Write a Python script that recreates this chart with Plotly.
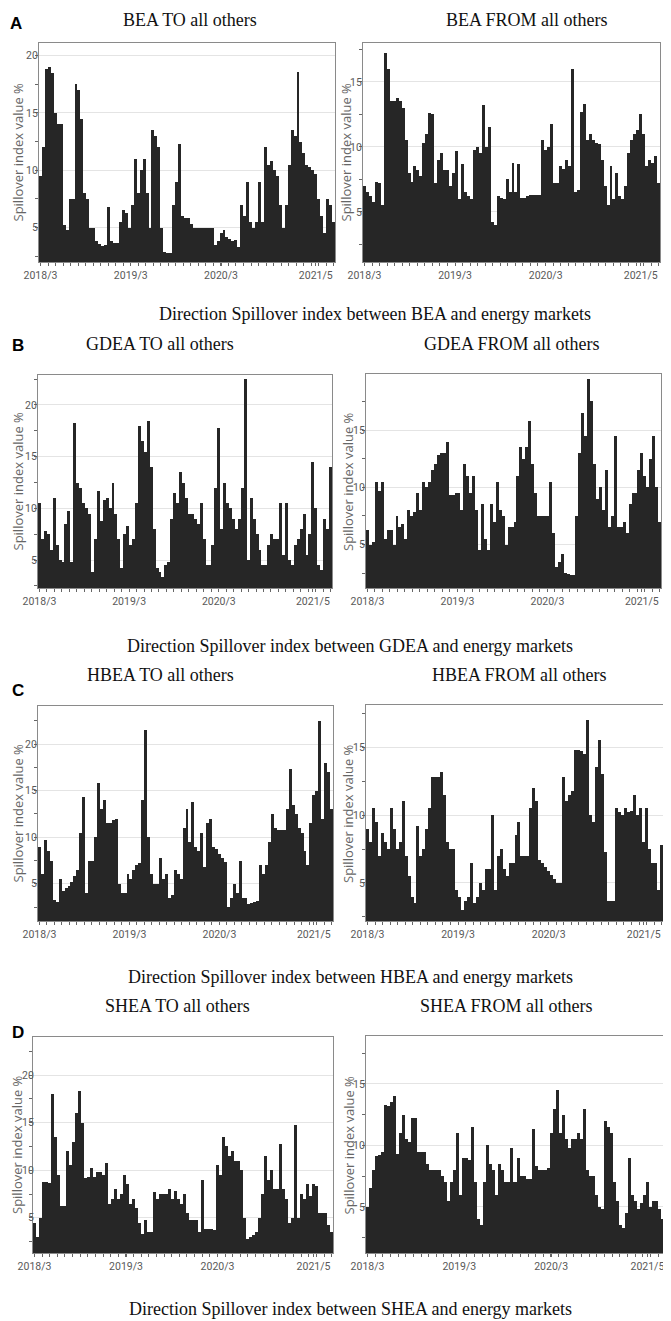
import plotly.graph_objects as go

# the page body keeps its default 8px margin, so the figure is drawn 8px smaller
PAGE_W, PAGE_H = 671, 1321
BODY = 8
W, H = PAGE_W - BODY, PAGE_H - BODY

TICK_LABELS = ["2018/3", "2019/3", "2020/3", "2021/5"]
TICK_POS = [0, 30.5, 61, 93]

# BEA
BEA_TO = [
    9.5, 12, 18.8, 19, 18.5, 15, 14, 14, 5.2, 4.8,
    7.5, 7.5, 17.5, 17, 14.5, 8, 7.5, 5, 5, 3.8,
    3.6, 3.4, 3.5, 6.8, 3.8, 3.7, 3.7, 5.5, 6.5, 6.3,
    5, 7, 11, 8, 10, 11, 8, 5, 13.5, 13,
    12, 5, 2.9, 2.8, 2.8, 7, 9, 12.3, 6, 5.8,
    5.8, 5.3, 5, 5, 5, 5, 5, 5, 5, 3.5,
    3.8, 4.5, 4.8, 4.2, 4, 3.8, 3.9, 3.3, 7, 6,
    9, 5.5, 5, 5.5, 9, 5.5, 12, 10.5, 10.8, 10,
    9.5, 7, 5, 7, 10.5, 13.5, 13, 18.6, 12.5, 11.5,
    10.5, 10.3, 10, 9.7, 7.5, 6, 4.5, 7.5, 7, 5.5,
]
BEA_FROM = [
    7, 6.5, 6.2, 5.8, 7.3, 7.2, 5.5, 17.2, 16, 13.5,
    13.5, 13.8, 13.5, 13, 10.5, 8, 7.3, 8.5, 8.2, 7.8,
    10.3, 11, 12.6, 12.5, 7.2, 9, 9.5, 8.2, 8.2, 7,
    8, 9.7, 6, 8.7, 6.5, 6.2, 6, 9.8, 10, 9.5,
    13.2, 10, 11.5, 4.2, 4, 6.2, 6.1, 6, 7.5, 6.5,
    8.8, 6.5, 8.7, 6.1, 6.1, 6.2, 6.3, 6.3, 6.3, 6.3,
    10.5, 9.8, 10, 11.8, 7.2, 7.2, 8.5, 8.3, 9, 8.5,
    16, 6.5, 6.7, 12.7, 13.3, 10.5, 11, 10.5, 10.3, 10.2,
    9, 7, 5.5, 8.5, 6, 8, 6.2, 6, 7, 9.5,
    10.5, 11, 11.3, 12.5, 11, 8.5, 9, 8.8, 9.3, 7.2,
]

# GDEA
GDEA_TO = [
    10.5, 7, 7.8, 7.5, 6, 11, 6.5, 5, 4.8, 8.5,
    9.7, 4.8, 18.3, 12.5, 12, 10.5, 10, 9.5, 3.8, 7,
    11.7, 8.8, 10.8, 11, 10, 12.5, 9.5, 7, 4.2, 7.5,
    8.3, 6.5, 7, 10.5, 18, 16.5, 15.5, 18.5, 14, 8,
    4.2, 3.8, 3.4, 4.5, 4.8, 9, 11.5, 10.5, 13.5, 12.5,
    11, 9.5, 9.5, 9, 8.5, 10.5, 7, 4.5, 4.5, 6.5,
    12, 17.8, 8, 12.5, 10.5, 10, 9, 8, 9, 12,
    22.5, 5, 11, 9, 7.5, 6, 4.5, 4.5, 6.5, 7.5,
    7, 7, 10.5, 5.5, 10.5, 5, 4.5, 6.5, 7, 8,
    9.5, 5.5, 7.5, 14.5, 10, 4.5, 4, 9, 8, 14,
]
GDEA_FROM = [
    6.3, 5, 5.2, 10.5, 9.7, 10.5, 5.5, 6.3, 6.3, 5,
    7.5, 6.5, 6.8, 5.5, 8, 7.5, 7.8, 9.5, 8, 10.5,
    10, 10.5, 11.5, 12, 12.8, 13, 13, 14, 9.3, 9.3,
    9.5, 9.5, 8, 12, 11, 9.5, 11, 8, 4.5, 8.5,
    5.5, 4.5, 8.5, 7, 10.5, 8, 7.5, 5, 6.5, 6.5,
    7, 11, 13.5, 12.5, 13.5, 15.8, 12, 9.5, 7.5, 7.5,
    7.5, 7.5, 10.5, 6, 3, 3.5, 4.2, 2.5, 2.4, 2.3,
    2.3, 7.5, 13, 16.5, 14.5, 19.5, 17.5, 12, 9, 10,
    8, 11.5, 6.5, 7.5, 14.5, 6.5, 6.5, 7, 6, 8.5,
    9.5, 9.5, 11.5, 13, 11, 10, 12.5, 14.5, 10, 7,
]

# HBEA
HBEA_TO = [
    9, 6, 9.7, 8.5, 7.5, 3.3, 3, 5.5, 4.2, 4.5,
    4.8, 5.2, 5.8, 6.5, 10.5, 14.3, 4, 7.5, 7.5, 10,
    15.8, 13, 14, 11.5, 11.5, 11.8, 12, 5, 4, 4,
    6, 5.5, 6.5, 7, 7.2, 14, 21.5, 10, 6, 5,
    5, 7.8, 5.5, 6, 3.5, 3.8, 6.5, 6, 5.5, 11,
    13, 9.5, 13.8, 9, 8.5, 10.5, 6.8, 11.5, 12, 9,
    8.7, 8.2, 7.8, 7.3, 2.5, 3.5, 5, 4, 7.5, 3.5,
    3.5, 2.8, 2.9, 3, 3.2, 7, 6, 7, 9.5, 12.5,
    11, 10.8, 10.8, 10.8, 13, 17.3, 13.5, 12.5, 11, 10.5,
    8.5, 7, 11.5, 14.5, 15, 22.5, 12, 18, 17, 13,
]
HBEA_FROM = [
    9, 8, 10.5, 9.5, 7, 8.7, 8, 7.5, 10.5, 9,
    7.5, 8, 11, 7, 5.5, 4, 3.5, 9.2, 7, 7.5,
    9, 10.5, 12.8, 12.8, 12.8, 13.2, 11.5, 8, 7.5, 7.5,
    4.5, 4, 3, 3.7, 4, 6.5, 3.5, 4, 5, 4.5,
    6, 6, 10, 4.5, 7, 7.5, 6, 5.5, 6.5, 6.5,
    8.5, 9.5, 7, 7, 7, 10.5, 12, 11, 6.7, 6.5,
    6.2, 5.9, 5.6, 5.3, 5, 5, 12.8, 11, 11.5, 11.8,
    14.8, 14.8, 14.7, 14.5, 17, 10, 9.5, 13.5, 15.5, 13,
    7.3, 3.7, 3.7, 3.7, 10.5, 10.2, 10, 10.5, 10.2, 10.3,
    11.5, 10, 10.5, 8, 10.5, 7.5, 6.5, 6.5, 4.5, 7.8,
]

# SHEA
SHEA_TO = [
    4.5, 3, 5, 8.8, 8.8, 8.7, 18, 13.5, 9.5, 6.2,
    6.2, 12, 10.5, 13, 16, 18.3, 15, 9.2, 9.3, 10.2,
    9.3, 9.8, 9.8, 9.5, 10.8, 6.5, 7, 8, 7, 7.5,
    9.5, 8.5, 6.5, 7, 6, 4.5, 3.3, 4.8, 3.5, 3.5,
    7.7, 7, 7.5, 7.5, 7.5, 8, 7, 7.8, 7, 6.5,
    7.5, 5.5, 4.8, 4.8, 4.8, 3.5, 9, 3.8, 3.8, 3.8,
    3.7, 10.5, 9.5, 13.5, 12.5, 11.5, 12, 11, 11, 10,
    5, 2.8, 3, 3.2, 3.5, 5, 7.5, 11.5, 9, 10,
    8, 8, 12.8, 8, 7, 4.5, 5, 14.8, 5, 7.5,
    7, 8.5, 7.3, 8.5, 8.3, 5.5, 5.5, 5.5, 4.2, 3.5,
]
SHEA_FROM = [
    5, 6.5, 8, 9.1, 9.2, 9.5, 13.3, 13.2, 13.5, 14,
    9.3, 11, 12.5, 10.5, 10.3, 12.2, 12.2, 9.5, 9.5, 9.5,
    8.5, 8, 8, 8, 8, 7.5, 7, 5.5, 7, 8,
    11, 6, 9, 9, 8.8, 11.5, 7, 4, 3.5, 7,
    10, 8.5, 8, 6, 8.5, 8, 7, 7, 9.8, 7,
    9, 7.5, 7.5, 7.3, 7.3, 11.3, 8.3, 8, 8, 8,
    8.2, 11, 13, 14.5, 11, 12.5, 10.5, 9.8, 10.5, 10.5,
    11, 10.5, 13, 8, 7.5, 7.5, 6, 5, 4.8, 12,
    11.5, 11, 7, 5.5, 3.5, 3.3, 4.5, 9, 6, 5.5,
    4.8, 5.3, 6, 7, 5, 5.5, 5.5, 4.8, 4, 4,
]

MARKETS = ["BEA", "GDEA", "HBEA", "SHEA"]
LETTERS = ["A", "B", "C", "D"]
SERIES = [(BEA_TO, BEA_FROM), (GDEA_TO, GDEA_FROM), (HBEA_TO, HBEA_FROM), (SHEA_TO, SHEA_FROM)]
YRANGES = [
    ((2.0, 21.1), (1.15, 18.0)),
    ((2.3, 22.9), (1.2, 19.9)),
    ((1.0, 24.1), (2.2, 18.1)),
    ((1.3, 24.0), (1.25, 18.9)),
]

# page-pixel boxes (x0, x1, ytop, ybottom) for the two plots of each panel
BOXES = [
    ((39, 335, 43, 262), (363, 660, 43, 262)),
    ((38, 332, 375, 588), (366, 661, 374, 588)),
    ((38, 333, 706, 921), (366, 663, 705, 921)),
    ((33, 333, 1037, 1253), (366, 667, 1036, 1253)),
]
TITLE_POS = [((190, 20), (527, 20)), ((160, 344), (512, 344)), ((160, 675), (519, 675)), ((178, 1006), (506, 1006))]
LETTER_POS = [(16, 23), (18, 345), (18, 690), (18, 1032)]
CAPTION_POS = [(375, 314), (350, 646), (350, 977), (350, 1309)]
YTITLE_X = [(17, 345), (17, 348), (17, 348), (17, 348)]
LABEL_SHIFT = [(-5, -5), (-5, -5), (-5, -5), (-7, -5)]

SERIF = "Liberation Serif, Times New Roman, serif"
SANS = "Roboto, Arial, sans-serif"
GREY = "#595959"
BAR = "#262626"


def fx(px):
    return (px - BODY) / W


def fy(py):
    return 1 - (py - BODY) / H


fig = go.Figure()
layout = {}
annotations = []

k = 0
for p, market in enumerate(MARKETS):
    for side in range(2):
        k += 1
        values = SERIES[p][side]
        x0, x1, yt, yb = BOXES[p][side]
        sfx = "" if k == 1 else str(k)
        fig.add_trace(
            go.Bar(
                x=list(range(len(values))),
                y=values,
                width=1,
                marker=dict(color=BAR, line=dict(width=0)),
                xaxis=f"x{sfx}",
                yaxis=f"y{sfx}",
                showlegend=False,
                hoverinfo="skip",
            )
        )
        layout[f"xaxis{sfx}"] = dict(
            domain=[fx(x0), fx(x1)],
            anchor=f"y{sfx}",
            automargin=False,
            range=[-0.5, len(values) - 0.5],
            tickmode="array",
            tickvals=TICK_POS,
            ticktext=TICK_LABELS,
            ticks="outside",
            ticklen=3,
            tickcolor="#666666",
            tickfont=dict(family=SANS, size=10.5, color=GREY),
            showline=True,
            linecolor="#8a8a8a",
            linewidth=1,
            mirror=True,
            showgrid=False,
            zeroline=False,
            minor=dict(tickmode="linear", tick0=0, dtick=2.54, ticks="outside", ticklen=3, tickcolor="#666666", showgrid=False),
        )
        layout[f"yaxis{sfx}"] = dict(
            domain=[fy(yb), fy(yt)],
            anchor=f"x{sfx}",
            automargin=False,
            range=list(YRANGES[p][side]),
            tick0=0,
            dtick=5,
            ticks="outside",
            ticklen=3,
            tickcolor="#666666",
            tickfont=dict(family=SANS, size=10.5, color=GREY),
            ticklabelstandoff=LABEL_SHIFT[p][side],
            showline=True,
            linecolor="#8a8a8a",
            linewidth=1,
            mirror=True,
            showgrid=True,
            gridcolor="#e4e4e4",
            zeroline=False,
            minor=dict(tick0=0, dtick=2.5, ticks="outside", ticklen=3, tickcolor="#666666", showgrid=False),
        )
        tx, ty = TITLE_POS[p][side]
        annotations.append(dict(
            text=f"{market} {'TO' if side == 0 else 'FROM'} all others",
            x=fx(tx), y=fy(ty), xref="paper", yref="paper",
            xanchor="center", yanchor="middle", showarrow=False,
            font=dict(family=SERIF, size=18, color="#111111"),
        ))
        annotations.append(dict(
            text="Spillover index value %",
            x=fx(YTITLE_X[p][side]), y=fy((yt + yb) / 2), xref="paper", yref="paper",
            xanchor="center", yanchor="middle", showarrow=False, textangle=-90,
            font=dict(family="Open Sans, sans-serif", size=13, color="#666666"),
        ))
    lx, ly = LETTER_POS[p]
    annotations.append(dict(
        text=f"<b>{LETTERS[p]}</b>", x=fx(lx), y=fy(ly), xref="paper", yref="paper",
        xanchor="center", yanchor="middle", showarrow=False,
        font=dict(family="Liberation Sans, Arial, sans-serif", size=17, color="#000000"),
    ))
    cx, cy = CAPTION_POS[p]
    annotations.append(dict(
        text=f"Direction Spillover index between {market} and energy markets",
        x=fx(cx), y=fy(cy), xref="paper", yref="paper",
        xanchor="center", yanchor="middle", showarrow=False,
        font=dict(family=SERIF, size=18, color="#111111"),
    ))

fig.update_layout(
    width=W,
    height=H,
    autosize=False,
    margin=dict(l=0, r=0, t=0, b=0, pad=0),
    paper_bgcolor="white",
    plot_bgcolor="white",
    bargap=0,
    annotations=annotations,
    **layout,
)
fig.write_html("out.html")
